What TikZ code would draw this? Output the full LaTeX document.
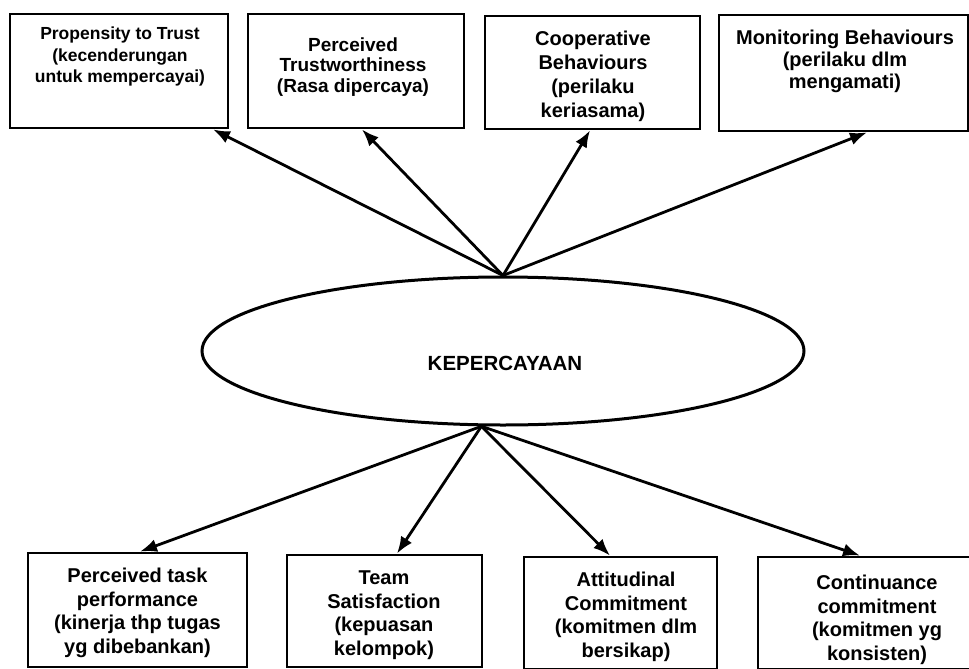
\documentclass[tikz,border=0pt]{standalone}
\usepackage{fontspec}
\setmainfont{Liberation Sans}
\usetikzlibrary{shapes.geometric,arrows.meta}
\tikzset{
  boxnode/.style={draw=black, line width=2.8pt, rectangle, inner sep=0pt},
  txt/.style={align=center, inner sep=0pt, font=\bfseries\fontsize{20}{23.5}\selectfont},
  arr/.style={line width=2.8pt, -{Latex[length=17pt,width=13pt]}},
}
\newcommand{\boxat}[5]{% name, x1, y1, x2, y2
  \node[boxnode, minimum width={(#4-#2)*1pt}, minimum height={(#5-#3)*1pt}] (#1) at ({(#2+#4)/2},{(#3+#5)/2}) {};}
\begin{document}
\begin{tikzpicture}[x=1pt,y=-1pt]
\fill[white] (0,0) rectangle (969,669);
\useasboundingbox (0,0) rectangle (969,669);

% top boxes
\boxat{b1}{10}{14}{228}{128}
\boxat{b2}{248}{14}{464}{128}
\boxat{b3}{485}{16}{700}{129}
\boxat{b4}{719}{15}{968}{131}
% bottom boxes
\boxat{b5}{28}{553}{247}{667}
\boxat{b6}{287}{555}{482}{667}
\boxat{b7}{524}{557}{717}{669}
\boxat{b8}{758}{557}{996}{669}

% texts
\node[txt, font=\bfseries\fontsize{17.5}{21.5}\selectfont] (t1) at (120,56.5) {Propensity to Trust\\(kecenderungan\\untuk mempercayai)};
\node[txt, font=\bfseries\fontsize{19}{20.5}\selectfont] (t2) at (353,67) {Perceived\\Trustworthiness\\(Rasa dipercaya)};
\node[txt, font=\bfseries\fontsize{20}{24}\selectfont] (t3) at (593,76) {Cooperative\\Behaviours\\(perilaku\\keriasama)};
\node[txt, font=\bfseries\fontsize{20}{21.7}\selectfont] (t4) at (845,61.5) {Monitoring Behaviours\\(perilaku dlm\\mengamati)};
\node[txt] (t5) at (137.5,613) {Perceived task\\performance\\(kinerja thp tugas\\yg dibebankan)};
\node[txt] (t6) at (384,615) {Team\\Satisfaction\\(kepuasan\\kelompok)};
\node[txt] (t7) at (626,617) {Attitudinal\\Commitment\\(komitmen dlm\\bersikap)};
\node[txt] (t8) at (877,620) {Continuance\\commitment\\(komitmen yg\\konsisten)};

% central ellipse
\node[ellipse, draw=black, line width=3pt, minimum width=602pt, minimum height=148pt, inner sep=0pt] (K) at (503,351) {};
\node[txt, font=\bfseries\fontsize{20.5}{24}\selectfont] (kt) at (505,363) {KEPERCAYAAN};

% arrows
\draw[arr] (K.north) -- ([xshift=94pt]b1.south);
\draw[arr] (K.north) -- ([xshift=6pt]b2.south);
\draw[arr] (K.north) -- ([xshift=-2.5pt]b3.south);
\draw[arr] (K.north) -- ([xshift=23.5pt]b4.south);
\draw[arr] (K.254) -- ([xshift=2.5pt]b5.north);
\draw[arr] (K.254) -- ([xshift=12.5pt]b6.north);
\draw[arr] (K.254) -- ([xshift=-10.5pt]b7.north);
\draw[arr] (K.254) -- ([xshift=-17pt]b8.north);
\end{tikzpicture}
\end{document}
